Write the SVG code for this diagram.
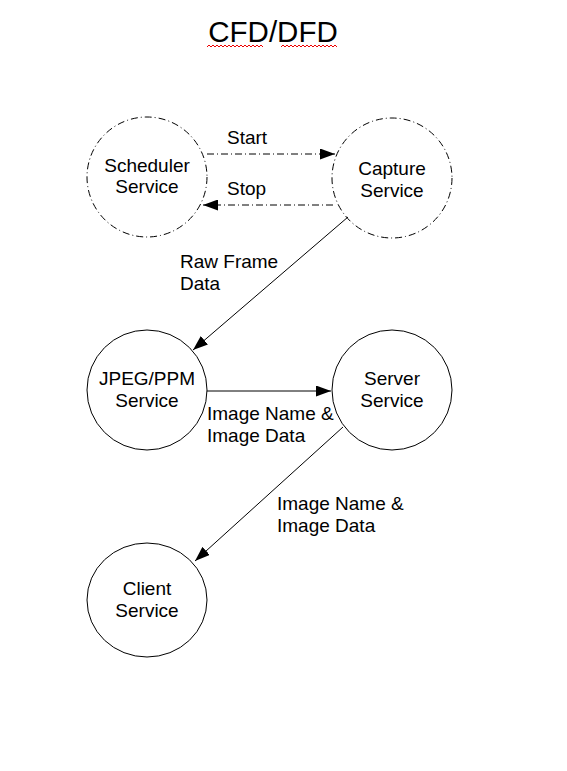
<svg xmlns="http://www.w3.org/2000/svg" width="567" height="771" viewBox="0 0 567 771">
<style>
text{font-family:"Liberation Sans",Arial,sans-serif;font-size:19px;fill:#000}
.n{fill:none;stroke:#000;stroke-width:1}
.d{stroke-dasharray:7 3 1 3}
.c{fill:none;stroke:#000;stroke-width:1}
.t{text-anchor:middle}
</style>
<defs>
<marker id="ah" viewBox="0 0 15 11" refX="15" refY="5.5" markerWidth="15" markerHeight="11" markerUnits="userSpaceOnUse" orient="auto"><path d="M0,0L15,5.5L0,11z" fill="#000"/></marker>
</defs>
<rect width="567" height="771" fill="#fff"/>
<g id="title">
<text x="273" y="42" class="t" style="font-size:29.5px">CFD/DFD</text>
<path d="M207,47 l2,-2 l2,2 l2,-2 l2,2 l2,-2 l2,2 l2,-2 l2,2 l2,-2 l2,2 l2,-2 l2,2 l2,-2 l2,2 l2,-2 l2,2 l2,-2 l2,2 l2,-2 l2,2 l2,-2 l2,2 l2,-2 l2,2 l2,-2 l2,2 l2,-2 l2,2" fill="none" stroke="#e00" stroke-width="1"/>
<path d="M281,47 l2,-2 l2,2 l2,-2 l2,2 l2,-2 l2,2 l2,-2 l2,2 l2,-2 l2,2 l2,-2 l2,2 l2,-2 l2,2 l2,-2 l2,2 l2,-2 l2,2 l2,-2 l2,2 l2,-2 l2,2 l2,-2 l2,2 l2,-2 l2,2 l2,-2 l2,2" fill="none" stroke="#e00" stroke-width="1"/>
</g>
<g id="scheduler">
<circle cx="147" cy="177" r="60" class="n d"/>
<text x="147" y="172" class="t">Scheduler</text>
<text x="147" y="193" class="t">Service</text>
</g>
<g id="capture">
<circle cx="392" cy="178" r="60" class="n d"/>
<text x="392" y="175" class="t">Capture</text>
<text x="392" y="197" class="t">Service</text>
</g>
<g id="jpeg">
<circle cx="147" cy="390" r="60" class="n"/>
<text x="147" y="385" class="t">JPEG/PPM</text>
<text x="147" y="407" class="t">Service</text>
</g>
<g id="server">
<circle cx="392" cy="390" r="60" class="n"/>
<text x="392" y="385" class="t">Server</text>
<text x="392" y="407" class="t">Service</text>
</g>
<g id="client">
<ellipse cx="147" cy="600" rx="60" ry="57" class="n"/>
<text x="147" y="595" class="t">Client</text>
<text x="147" y="617" class="t">Service</text>
</g>
<g id="connectors">
<line x1="207" y1="154" x2="335" y2="154" class="c d" marker-end="url(#ah)"/>
<line x1="333" y1="205" x2="203" y2="205" class="c d" marker-end="url(#ah)"/>
<line x1="348" y1="217" x2="193" y2="350" class="c" marker-end="url(#ah)"/>
<line x1="207" y1="391" x2="331" y2="391" class="c" marker-end="url(#ah)"/>
<line x1="343" y1="427" x2="195" y2="561" class="c" marker-end="url(#ah)"/>
<text x="227" y="144">Start</text>
<text x="227" y="195">Stop</text>
<text x="180" y="268">Raw Frame</text>
<text x="180" y="290">Data</text>
<text x="207" y="420">Image Name &amp;</text>
<text x="207" y="442">Image Data</text>
<text x="277" y="510">Image Name &amp;</text>
<text x="277" y="532">Image Data</text>
</g>
</svg>
